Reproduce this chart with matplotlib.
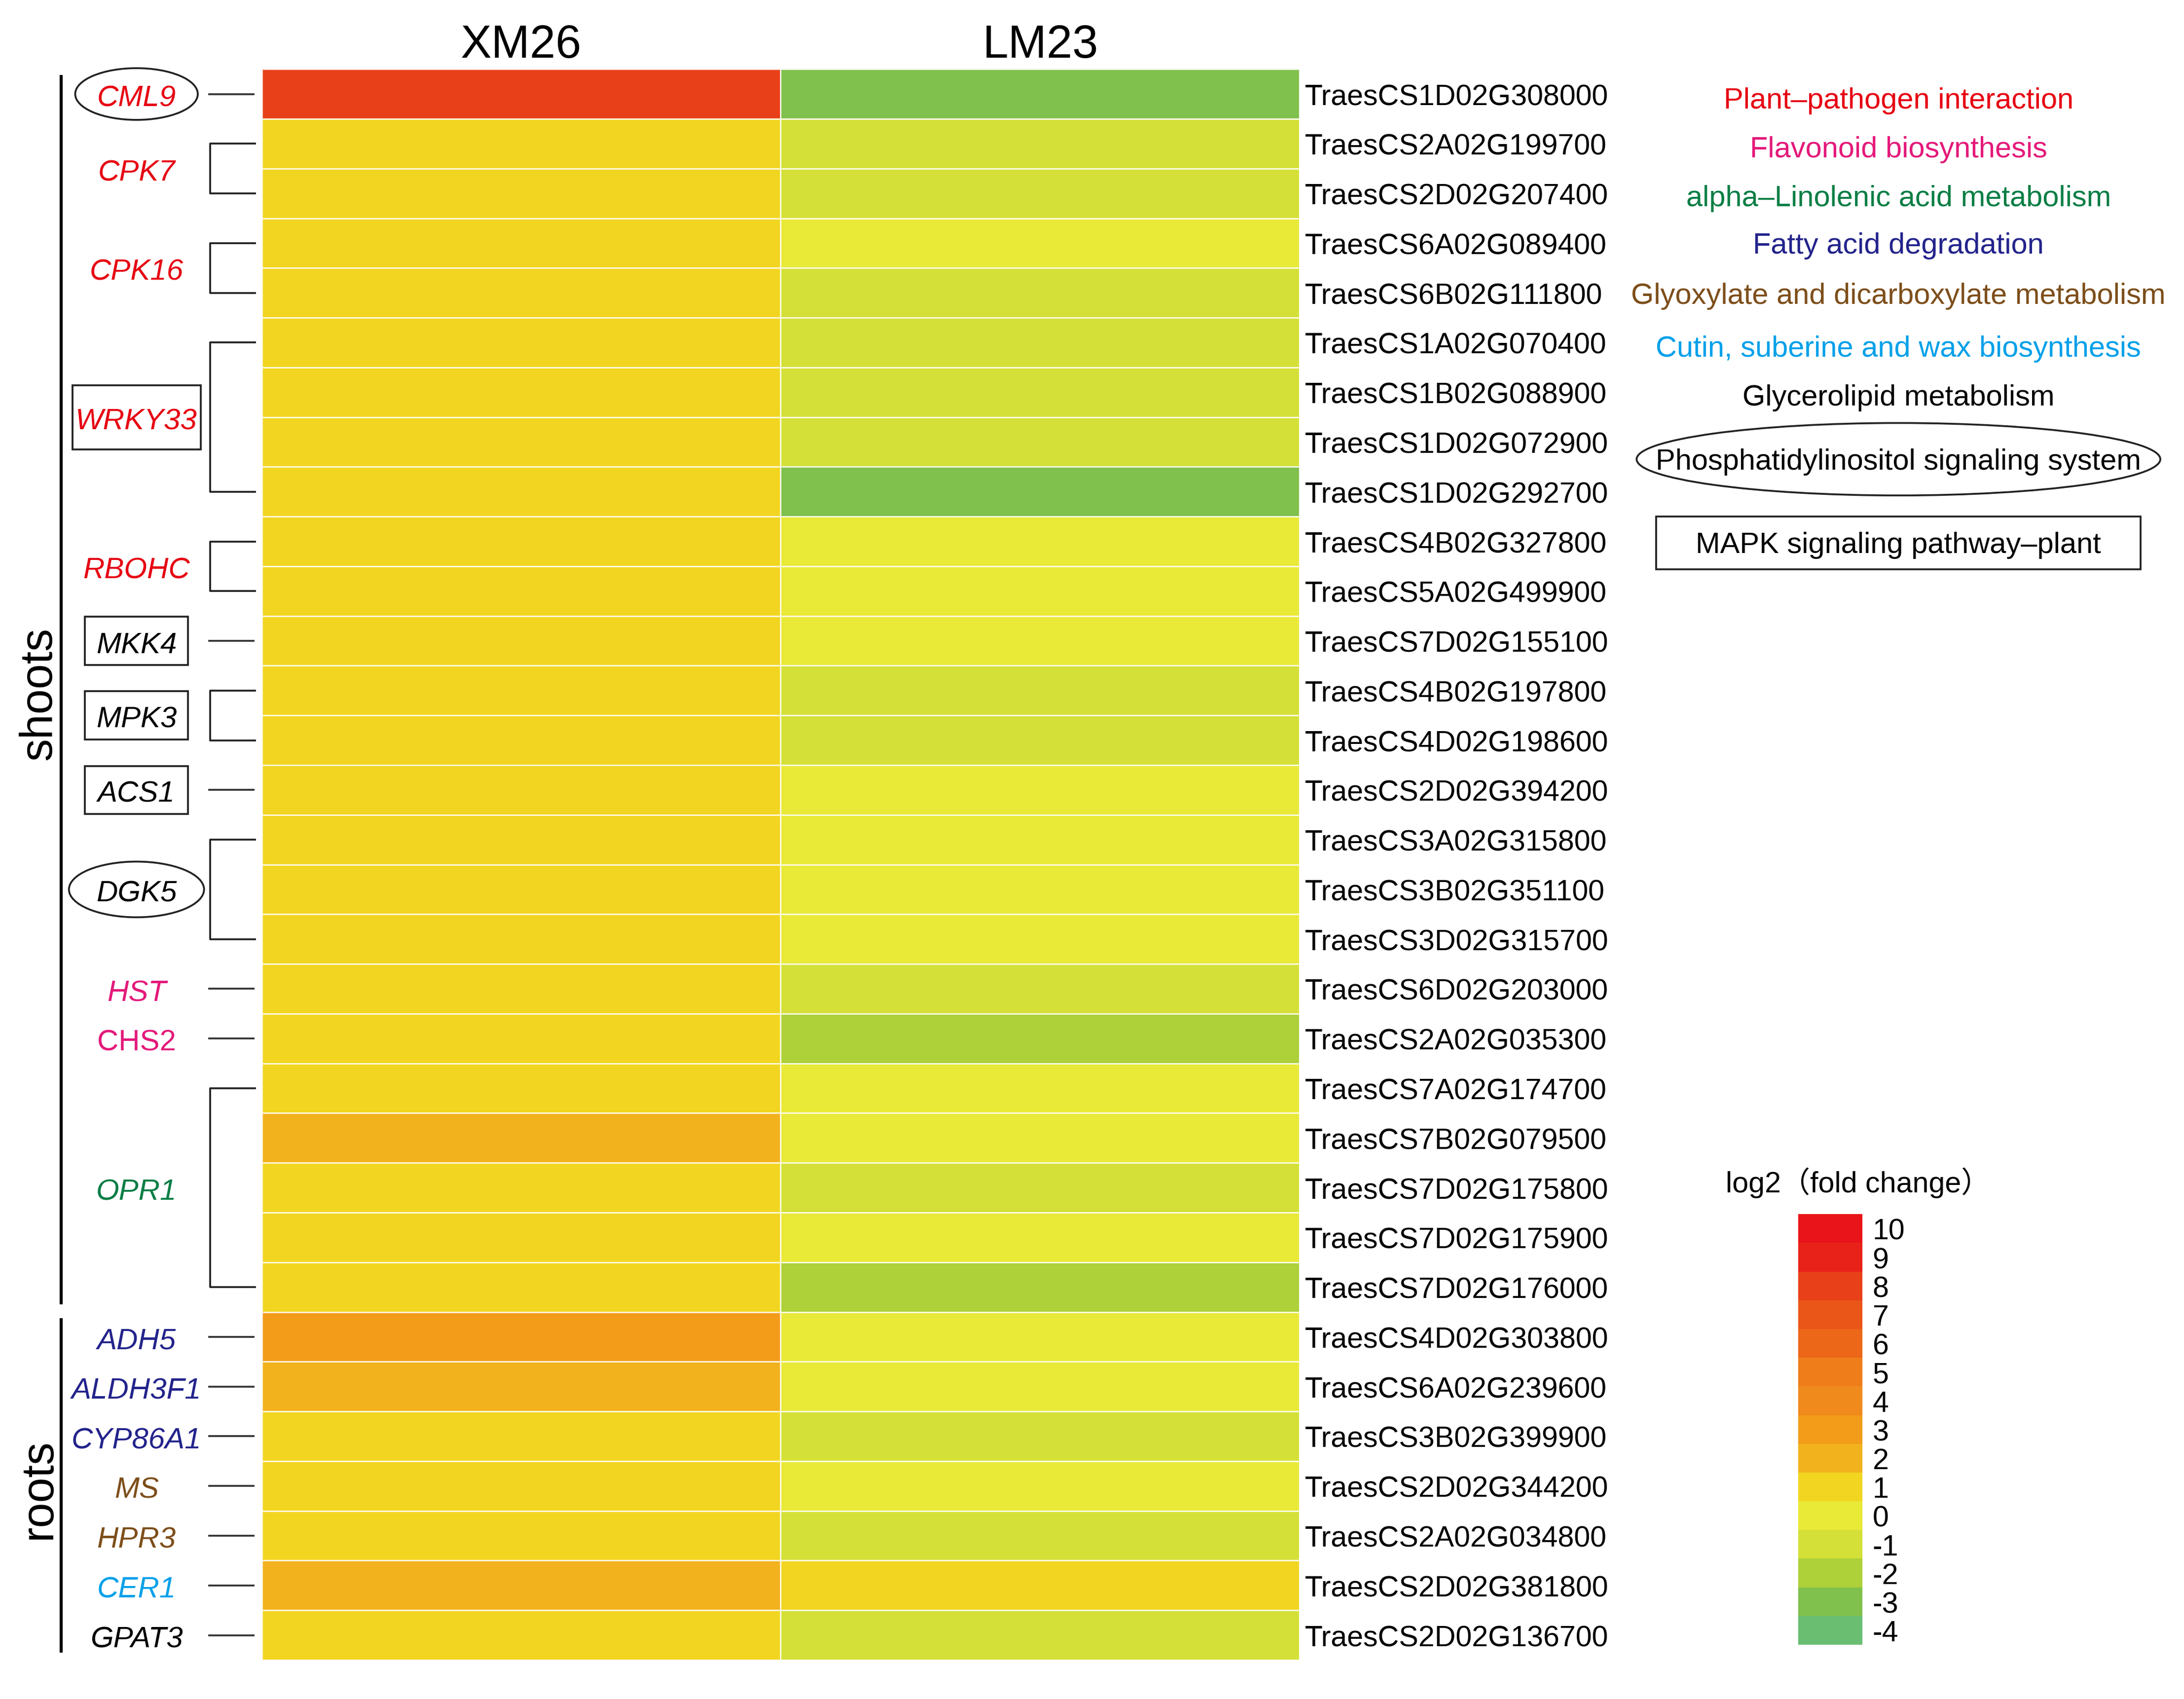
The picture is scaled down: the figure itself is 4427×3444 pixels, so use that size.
import numpy as np
import matplotlib
matplotlib.use("Agg")
import matplotlib.pyplot as plt
from matplotlib.colors import ListedColormap, BoundaryNorm
from matplotlib.cm import ScalarMappable
from matplotlib.patches import Rectangle, Ellipse
from matplotlib.transforms import blended_transform_factory

plt.rcParams['font.family'] = ['Liberation Sans', 'Noto Sans CJK SC', 'DejaVu Sans']

# data
samples = ["XM26", "LM23"]
gene_ids = ["TraesCS1D02G308000", "TraesCS2A02G199700", "TraesCS2D02G207400",
            "TraesCS6A02G089400", "TraesCS6B02G111800", "TraesCS1A02G070400",
            "TraesCS1B02G088900", "TraesCS1D02G072900", "TraesCS1D02G292700",
            "TraesCS4B02G327800", "TraesCS5A02G499900", "TraesCS7D02G155100",
            "TraesCS4B02G197800", "TraesCS4D02G198600", "TraesCS2D02G394200",
            "TraesCS3A02G315800", "TraesCS3B02G351100", "TraesCS3D02G315700",
            "TraesCS6D02G203000", "TraesCS2A02G035300", "TraesCS7A02G174700",
            "TraesCS7B02G079500", "TraesCS7D02G175800", "TraesCS7D02G175900",
            "TraesCS7D02G176000", "TraesCS4D02G303800", "TraesCS6A02G239600",
            "TraesCS3B02G399900", "TraesCS2D02G344200", "TraesCS2A02G034800",
            "TraesCS2D02G381800", "TraesCS2D02G136700"]
xm26 = [8, 1, 1, 1, 1, 1, 1, 1, 1, 1, 1, 1, 1, 1, 1, 1,
        1, 1, 1, 1, 1, 2, 1, 1, 1, 3, 2, 1, 1, 1, 2, 1]
lm23 = [-3, -1, -1, 0, -1, -1, -1, -1, -3, 0, 0, 0, -1, -1, 0, 0,
        0, 0, -1, -2, 0, 0, -1, 0, -2, 0, 0, -1, 0, -1, 1, -1]

cbar_ticks = list(range(-4, 11))
bin_colors = ["#6abe72", "#80c04c", "#aed038", "#d4e038", "#e9e938",
              "#f2d520", "#f2b21d", "#f39c1a", "#f08a1c", "#ee7d1a",
              "#ec6718", "#ea5518", "#e84018", "#e82219", "#e81419"]

RED = "#e60012"
PINK = "#e4197a"
GREEN = "#0a7e45"
BLUE = "#23238c"
BROWN = "#7d4e1a"
LBLUE = "#00a0e9"

# gene name, first row, last row, colour, italic, frame
genes = [
    ("CML9", 0, 0, RED, True, "ellipse"),
    ("CPK7", 1, 2, RED, True, None),
    ("CPK16", 3, 4, RED, True, None),
    ("WRKY33", 5, 8, RED, True, "box"),
    ("RBOHC", 9, 10, RED, True, None),
    ("MKK4", 11, 11, "black", True, "box"),
    ("MPK3", 12, 13, "black", True, "box"),
    ("ACS1", 14, 14, "black", True, "box"),
    ("DGK5", 15, 17, "black", True, "ellipse"),
    ("HST", 18, 18, PINK, True, None),
    ("CHS2", 19, 19, PINK, False, None),
    ("OPR1", 20, 24, GREEN, True, None),
    ("ADH5", 25, 25, BLUE, True, None),
    ("ALDH3F1", 26, 26, BLUE, True, None),
    ("CYP86A1", 27, 27, BLUE, True, None),
    ("MS", 28, 28, BROWN, True, None),
    ("HPR3", 29, 29, BROWN, True, None),
    ("CER1", 30, 30, LBLUE, True, None),
    ("GPAT3", 31, 31, "black", True, None),
]
tissues = [("shoots", 0, 24), ("roots", 25, 31)]

pathways = ["Plant\u2013pathogen interaction", "Flavonoid biosynthesis",
            "alpha\u2013Linolenic acid metabolism", "Fatty acid degradation",
            "Glyoxylate and dicarboxylate metabolism",
            "Cutin, suberine and wax biosynthesis", "Glycerolipid metabolism",
            "Phosphatidylinositol signaling system",
            "MAPK signaling pathway\u2013plant"]
pathway_colors = [RED, PINK, GREEN, BLUE, BROWN, LBLUE, "black", "black", "black"]

# layout (reference units: 1568 x 1220)
W, H = 1568.0, 1220.0
fig = plt.figure(figsize=(4427 / 300, 3445 / 300), dpi=300)

cmap = ListedColormap(bin_colors)
norm = BoundaryNorm(np.arange(-4.5, 11.5, 1.0), cmap.N)

hm = fig.add_axes([188 / W, 1 - 1192 / H, (933 - 188) / W, (1192 - 50) / H])
vals = np.column_stack([xm26, lm23])
hm.pcolormesh(vals, cmap=cmap, norm=norm, edgecolors=(1, 1, 1, 0.8), linewidth=0.7)
hm.set_xlim(0, 2)
hm.set_ylim(len(gene_ids), 0)
hm.set_xticks(np.arange(len(samples)) + 0.5)
hm.set_xticklabels(samples, fontsize=22.5)
hm.xaxis.tick_top()
hm.set_yticks(np.arange(len(gene_ids)) + 0.5)
hm.set_yticklabels(gene_ids, fontsize=14.2)
hm.yaxis.tick_right()
hm.tick_params(length=0)
hm.tick_params(axis="x", pad=1.0)
hm.tick_params(axis="y", pad=2.5)
for s in hm.spines.values():
    s.set_visible(False)

ann = fig.add_axes([0, 0, 1, 1], facecolor="none")
ann.set_xlim(0, W)
ann.set_ylim(H, 0)
ann.axis("off")
tr = blended_transform_factory(ann.transData, hm.transData)

# tissue lines
for name, r0, r1 in tissues:
    ann.plot([44, 44], [r0 + 0.12, r1 + 0.85], color="black", lw=1.5,
             transform=tr, solid_capstyle="butt")
    ann.text(28, (r0 + r1 + 1) / 2 + 0.05, name, rotation=90, ha="center",
             va="center", fontsize=22, transform=tr)

# gene names and brackets
for name, r0, r1, col, ital, frame in genes:
    yc = (r0 + r1 + 1) / 2
    ann.text(98, yc + 0.08, name, color=col, style="italic" if ital else "normal",
             ha="center", va="center", fontsize=14.4, transform=tr)
    if r0 == r1:
        ann.plot([150, 182], [yc, yc], color="#333333", lw=0.9, transform=tr)
    else:
        ann.plot([183, 151, 151, 183], [r0 + 0.5, r0 + 0.5, r1 + 0.5, r1 + 0.5],
                 color="#222222", lw=0.9, transform=tr)
    if frame == "box":
        bw = 92 if len(name) > 4 else 74
        bh = 1.29 if len(name) > 4 else 0.97
        ann.add_patch(Rectangle((98 - bw / 2, yc - bh / 2), bw, bh, fill=False,
                                ec="#222222", lw=0.9, transform=tr))
    elif frame == "ellipse":
        ew = 88 if r0 == r1 else 97
        eh = 1.04 if r0 == r1 else 1.12
        ann.add_patch(Ellipse((98, yc), ew, eh, fill=False, ec="#222222",
                              lw=0.9, transform=tr))

# pathway legend
py = [71, 106, 141, 175, 211, 249, 284, 330, 390]
for txt, col, y in zip(pathways, pathway_colors, py):
    ann.text(1363, y + 1.5, txt, color=col, ha="center", va="center", fontsize=14.3)
ann.add_patch(Ellipse((1363, 330), 376, 52, fill=False, ec="#222222", lw=0.9))
ann.add_patch(Rectangle((1189, 371), 348, 38, fill=False, ec="#222222", lw=0.9))

# colour bar
cax = fig.add_axes([1291 / W, 1 - 1181 / H, 46 / W, (1181 - 872) / H])
cb = fig.colorbar(ScalarMappable(norm=norm, cmap=cmap), cax=cax, ticks=cbar_ticks)
cb.outline.set_visible(False)
cb.minorticks_off()
cb.ax.tick_params(which="both", length=0, labelsize=14.2, pad=5)
cb.ax.set_yticklabels([str(t) for t in cbar_ticks])
ann.text(1334, 849, "log2\uff08fold change\uff09", ha="center", va="center", fontsize=14.2)

fig.savefig("out.png", dpi=300)
